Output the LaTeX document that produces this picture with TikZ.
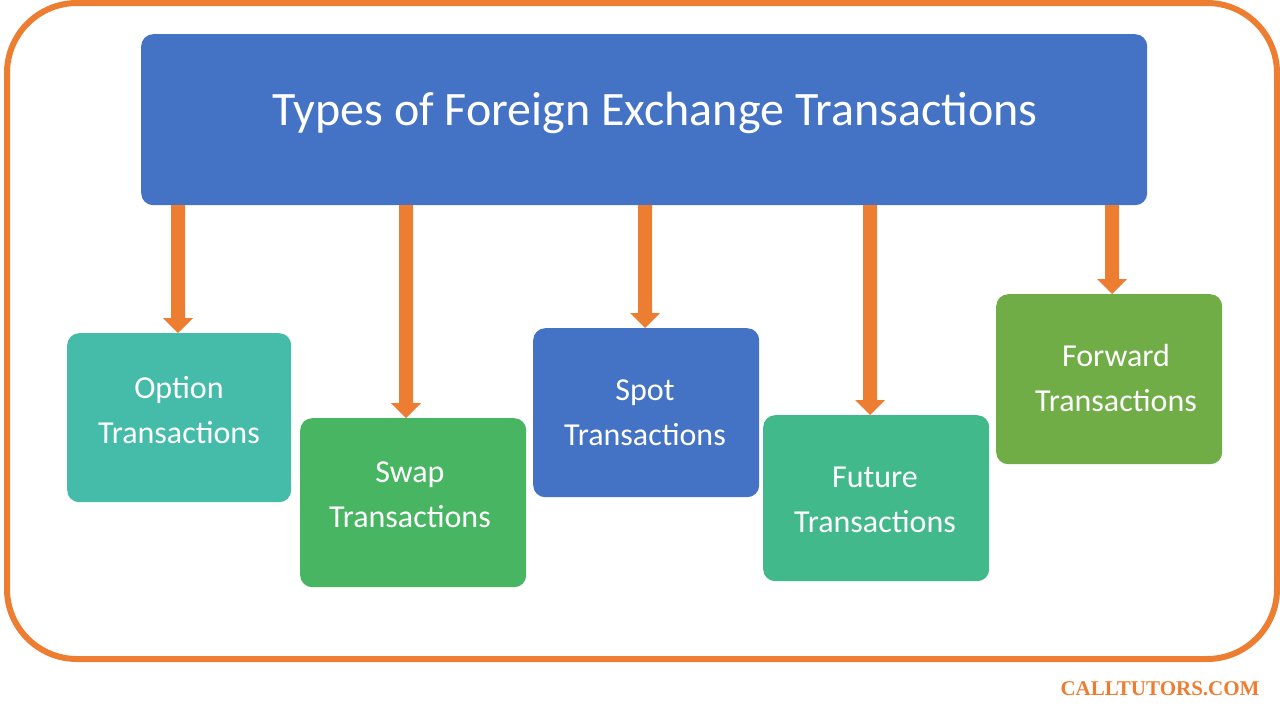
\documentclass[tikz,border=0pt]{standalone}
\usepackage{fontspec}
\setmainfont{Carlito}
\newfontfamily\wmfont{Liberation Serif}
\begin{document}
\begin{tikzpicture}[x=1pt,y=-1pt,
  box/.style={rounded corners=12pt,inner sep=0pt,anchor=north west},
  lbl/.style={text=white,align=center,font=\fontsize{32}{45}\selectfont,inner sep=0pt}]
\definecolor{orgc}{HTML}{ED7D31}
\definecolor{blu}{HTML}{4472C4}
\definecolor{c1}{HTML}{45BCAA}\definecolor{c2}{HTML}{48B563}\definecolor{c3}{HTML}{42B98A}\definecolor{c4}{HTML}{70AD47}
\useasboundingbox (0,0) rectangle (1280,720);
\draw[orgc,line width=6pt,rounded corners=70pt] (7,3) rectangle (1277,659);
\node[box,fill=blu,minimum width=1006pt,minimum height=171pt] (t) at (141,34) {};
\node[text=white,font=\fontsize{48}{56}\selectfont] (tt) at (655,113) {Types of Foreign Exchange Transactions};
\node[box,fill=c1,minimum width=224pt,minimum height=169pt] (o) at (67,333) {};
\node[box,fill=c2,minimum width=226pt,minimum height=169pt] (s) at (300,418) {};
\node[box,fill=blu,minimum width=226pt,minimum height=169pt] (p) at (533,328) {};
\node[box,fill=c3,minimum width=226pt,minimum height=166pt] (f) at (763,415) {};
\node[box,fill=c4,minimum width=226pt,minimum height=170pt] (w) at (996,294) {};
\node[lbl] (ol) at (179,410) {Option\\Transactions};
\node[lbl] (sl) at (410,495) {Swap\\Transactions};
\node[lbl] (pl) at (645,413) {Spot\\Transactions};
\node[lbl] (fl) at (875,500) {Future\\Transactions};
\node[lbl] (wl) at (1116,378) {Forward\\Transactions};
\foreach \nm/\x/\yt in {o/178/333,s/406/418,p/645/328,f/870/415,w/1112/294}{
  \fill[orgc] (\x-7,205) -- (\x+7,205) -- (\x+7,\yt-15) -- (\x+15,\yt-15) -- (\nm.north-|\x,0) -- (\x-15,\yt-15) -- (\x-7,\yt-15) -- cycle;
}
\node[text=orgc,font=\wmfont\bfseries\fontsize{21}{24}\selectfont] (wm) at (1160,689) {CALLTUTORS.COM};
\end{tikzpicture}
\end{document}
